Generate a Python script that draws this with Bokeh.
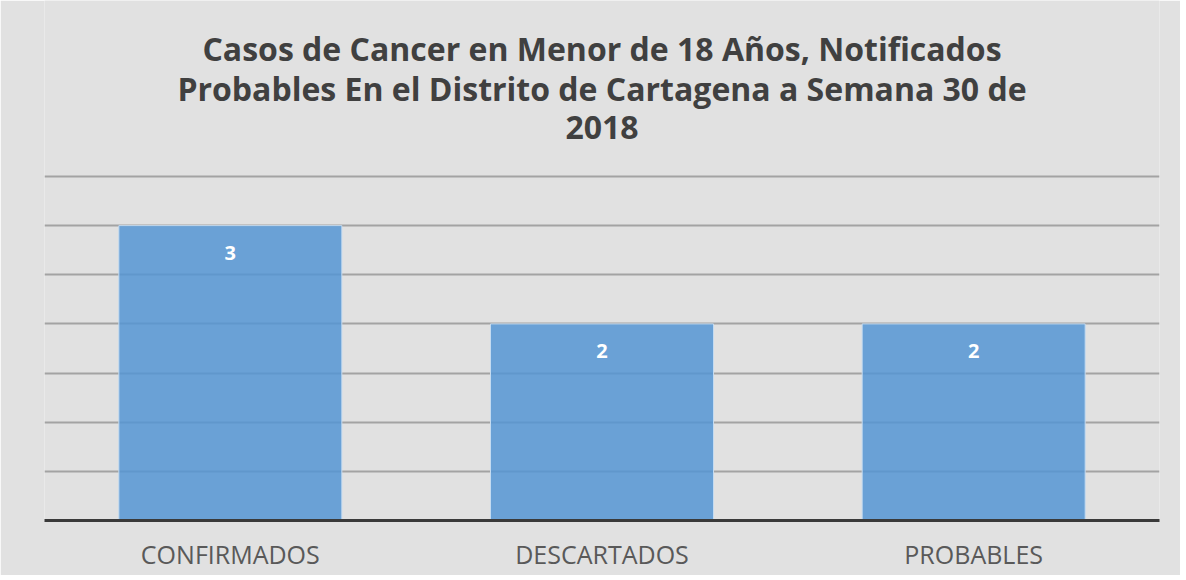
from bokeh.plotting import figure
from bokeh.models import FactorRange, Range1d, FixedTicker, ColumnDataSource
from bokeh.core.properties import value
from bokeh.embed import file_html
from bokeh.resources import INLINE

categories = ["CONFIRMADOS", "DESCARTADOS", "PROBABLES"]
casos = [3, 2, 2]
title_lines = [
    "Casos de Cancer en Menor de 18 Años, Notificados",
    "Probables En el Distrito de Cartagena a Semana 30 de",
    "2018",
]
grid_ticks = [0.5, 1.0, 1.5, 2.0, 2.5, 3.0, 3.5]
y_max = 3.5

BG = "#e1e1e1"
FONT = "Open Sans"

# layout (pixels)
W, H = 1180, 575
TOP_AREA = 176      # space above the top gridline, used by the title
BOTTOM = 55
frame_h = H - BOTTOM
y_end = y_max * frame_h / (frame_h - TOP_AREA)

src = ColumnDataSource(dict(cat=categories, v=casos, lbl=[str(c) for c in casos]))

p = figure(
    width=W, height=H,
    x_range=FactorRange(*categories),
    y_range=Range1d(0, y_end),
    output_backend="svg", toolbar_location=None,
    min_border_left=44, min_border_right=21, min_border_bottom=BOTTOM, min_border_top=0,
)
p.title.visible = False
p.background_fill_color = BG
p.border_fill_color = BG
p.outline_line_color = None

# title lines drawn above the top gridline
title_src = ColumnDataSource(dict(
    x=[categories[len(categories) // 2]] * len(title_lines),
    y=[y_max] * len(title_lines),
    t=title_lines,
    off=[-128, -88, -49],
))
p.text(x="x", y="y", text="t", y_offset="off", source=title_src, text_align="center",
       text_baseline="middle", text_font=value(FONT), text_font_size="32px",
       text_font_style="bold", text_color="#404040")

p.vbar(x="cat", top="v", width=0.6, source=src, fill_color="#5595d4", fill_alpha=0.85,
       line_color="#c4dbf1", line_width=1)

p.text(x="cat", y="v", text="lbl", source=src, text_color="white", text_font=value(FONT),
       text_font_size="20px", text_font_style="bold", text_align="center",
       text_baseline="middle", y_offset=27)

p.yaxis.visible = False
p.ygrid.ticker = FixedTicker(ticks=grid_ticks)
p.ygrid.grid_line_color = "#a3a3a3"
p.ygrid.grid_line_width = 2
p.xgrid.grid_line_color = None

p.xaxis.axis_line_color = "#3a3a3a"
p.xaxis.axis_line_width = 3
p.xaxis.major_tick_line_color = None
p.xaxis.minor_tick_line_color = None
p.xaxis.major_label_text_font = FONT
p.xaxis.major_label_text_font_size = "25px"
p.xaxis.major_label_text_color = "#595959"
p.xaxis.major_label_standoff = 10

open("out.html", "w").write(file_html(p, INLINE))
